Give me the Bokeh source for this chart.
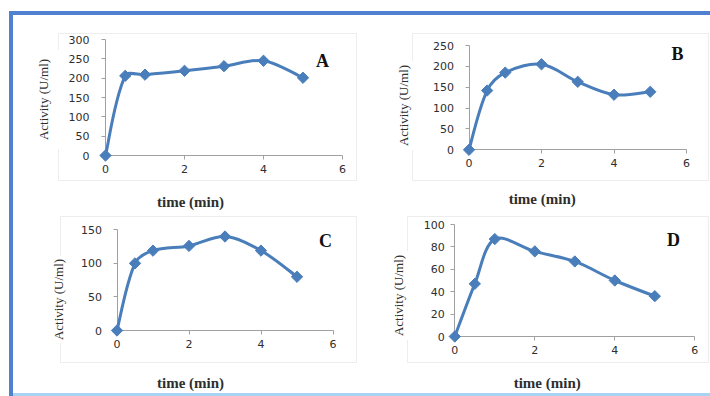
import numpy as np
from bokeh.plotting import figure
from bokeh.layouts import row, column
from bokeh.models import Label, Spacer, Div, FixedTicker, BoxAnnotation
from bokeh.embed import file_html
from bokeh.resources import INLINE

# ---------------- data ----------------
time_min = [0, 0.5, 1, 2, 3, 4, 5]
activity_A = [0, 206, 209, 219, 231, 245, 201]
activity_B = [0, 142, 185, 205, 163, 132, 139]
activity_C = [0, 100, 119, 126, 140, 119, 80]
activity_D = [0, 47, 87, 76, 67, 50, 36]
x_ticks = [0, 2, 4, 6]
y_ticks_A = [0, 50, 100, 150, 200, 250, 300]
y_ticks_B = [0, 50, 100, 150, 200, 250]
y_ticks_C = [0, 50, 100, 150]
y_ticks_D = [0, 20, 40, 60, 80, 100]
panel_letters = ["A", "B", "C", "D"]
x_title = "time (min)"
y_title = "Activity (U/ml)"

LINE = "#4A7EBB"
FRAME = "#c4c4c4"
AXIS = "#a0a0a0"
TEXT = "#2e2e2e"


def smooth(x, y, sx, sy, t=1.0 / 3.0):
    """Bezier control points for a smoothed line (segment-length weighted
    Catmull-Rom tangents, measured in screen pixels)."""
    x = np.asarray(x, float)
    y = np.asarray(y, float)
    px = np.concatenate([[x[0]], x, [x[-1]]])
    py = np.concatenate([[y[0]], y, [y[-1]]])
    tx = px[2:] - px[:-2]
    ty = py[2:] - py[:-2]
    seg = np.hypot(np.diff(x) * sx, np.diff(y) * sy)
    segp = np.concatenate([[seg[0]], seg, [seg[-1]]])
    d_in = segp[:-1]
    d_out = segp[1:]
    tot = d_in + d_out
    f_out = t * d_out / tot
    f_in = t * d_in / tot
    f_out[0] = f_in[0] = 1.0 / 6.0
    f_out[-1] = f_in[-1] = 1.0 / 6.0
    cx0 = x[:-1] + f_out[:-1] * tx[:-1]
    cy0 = y[:-1] + f_out[:-1] * ty[:-1]
    cx1 = x[1:] - f_in[1:] * tx[1:]
    cy1 = y[1:] - f_in[1:] * ty[1:]
    return dict(x0=x[:-1], y0=y[:-1], x1=x[1:], y1=y[1:],
                cx0=cx0, cy0=cy0, cx1=cx1, cy1=cy1)


def panel(letter, ys, yticks, g):
    ox, oy = g["origin"]
    w, h = g["size"]
    fl, fr, ft, fb = g["frame"]
    ymax = yticks[-1]
    sx = (g["x6"] - g["x0"]) / 6.0
    sy = (g["y0"] - g["ytop"]) / ymax

    def dx(px):
        return (px - g["x0"]) / sx

    def dy(py):
        return (g["y0"] - py) / sy

    p = figure(width=w, height=h, x_range=(dx(ox), dx(ox + w)),
               y_range=(dy(oy + h), dy(oy)),
               output_backend="svg", toolbar_location=None, min_border=0,
               outline_line_color=None,
               background_fill_color="white", border_fill_color="white")
    p.xgrid.visible = False
    p.ygrid.visible = False
    for ax in (p.xaxis, p.yaxis):
        ax.fixed_location = 0
        ax.level = "underlay"
        ax.axis_line_color = AXIS
        ax.major_tick_line_color = AXIS
        ax.minor_tick_line_color = None
        ax.major_tick_in = 0
        ax.major_tick_out = 4
        ax.major_label_text_font = "DejaVu Sans"
        ax.major_label_text_font_size = "11px"
        ax.major_label_text_color = TEXT
    p.xaxis.bounds = (0, 6)
    p.yaxis.bounds = (0, ymax)
    p.xaxis.ticker = FixedTicker(ticks=x_ticks)
    p.yaxis.ticker = FixedTicker(ticks=yticks)
    p.xaxis.major_label_standoff = 5
    p.yaxis.major_label_standoff = g["ystand"]

    # chart-area frame
    p.add_layout(BoxAnnotation(left=dx(fl), right=dx(fr), top=dy(ft), bottom=dy(fb),
                               fill_color=None, fill_alpha=0,
                               line_color=FRAME, line_width=1))

    p.bezier(**smooth(time_min, ys, sx, sy), line_color=LINE, line_width=3)
    p.scatter(time_min, ys, marker="square", angle=np.pi / 4, size=8,
              fill_color=LINE, line_color=LINE)

    lx, ly = g["letter"]
    p.add_layout(Label(x=dx(lx), y=dy(ly), text=letter, text_font="Liberation Serif",
                       text_font_style="bold", text_font_size="18px", text_color="#111111",
                       text_align="center", text_baseline="middle"))
    tx, ty = g["xtitle"]
    p.add_layout(Label(x=dx(tx), y=dy(ty), text=x_title, text_font="Liberation Serif",
                       text_font_style="bold", text_font_size="15px", text_color=TEXT,
                       text_align="center", text_baseline="middle"))
    yx, yy = g["ytitle"]
    p.add_layout(Label(x=dx(yx), y=dy(yy), text=y_title, text_font="Liberation Serif",
                       text_font_size="13px", text_color=TEXT, angle=np.pi / 2,
                       text_align="center", text_baseline="middle",
                       background_fill_color="white", padding=g["ypad"]))
    return p


geom = {
    "A": dict(origin=(13, 15), size=(371, 195), frame=(58, 356, 33, 180),
              x0=105, x6=342, y0=155, ytop=39, letter=(322, 60),
              xtitle=(190, 201), ytitle=(43, 99), ystand=12, ypad=9),
    "B": dict(origin=(384, 15), size=(326, 195), frame=(412, 708, 33, 180),
              x0=468.5, x6=686, y0=149.3, ytop=45, letter=(677, 53),
              xtitle=(541.7, 198), ytitle=(402.5, 105), ystand=11, ypad=4),
    "C": dict(origin=(13, 210), size=(371, 183), frame=(60, 356, 216, 362),
              x0=116.5, x6=332.5, y0=330, ytop=229.3, letter=(325, 240),
              xtitle=(190, 382), ytitle=(58.3, 299), ystand=11, ypad=3),
    "D": dict(origin=(384, 210), size=(326, 183), frame=(407, 708, 216, 362),
              x0=454.3, x6=694.3, y0=336, ytop=224, letter=(673, 239),
              xtitle=(546.7, 382), ytitle=(398.3, 295), ystand=6, ypad=4),
}

pA = panel(panel_letters[0], activity_A, y_ticks_A, geom["A"])
pB = panel(panel_letters[1], activity_B, y_ticks_B, geom["B"])
pC = panel(panel_letters[2], activity_C, y_ticks_C, geom["C"])
pD = panel(panel_letters[3], activity_D, y_ticks_D, geom["D"])

top_bar = Div(text="", width=701, height=4, margin=0,
              styles={"background-color": "#4f81d0"})
left_bar = Div(text="", width=4, height=381, margin=0,
               styles={"background-color": "#4f81d0"})
bottom_bar = Div(text="", width=697, height=3, margin=0,
                 styles={"background-color": "#a9d3f2"})

root = column(
    Spacer(width=710, height=11),
    row(Spacer(width=9, height=4), top_bar),
    row(Spacer(width=9, height=381), left_bar,
        column(row(pA, pB), row(pC, pD), bottom_bar)),
)

open("out.html", "w").write(file_html(root, INLINE))
